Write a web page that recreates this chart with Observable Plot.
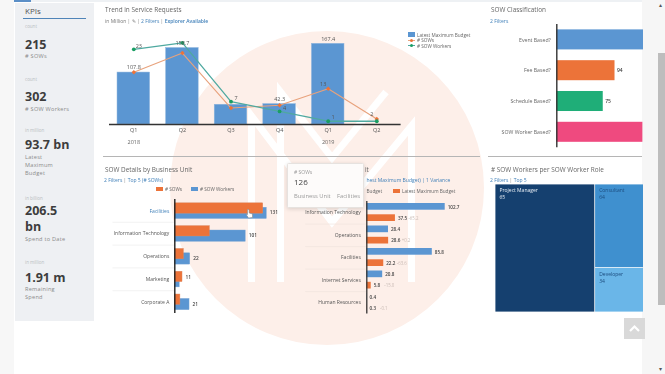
<!DOCTYPE html>
<html><head><meta charset="utf-8">
<script src="https://cdn.jsdelivr.net/npm/d3@7"></script>
<script src="https://cdn.jsdelivr.net/npm/@observablehq/plot@0.6"></script>
<style>
html,body{margin:0;padding:0;background:#fff;overflow:hidden}
#page{position:relative;width:665px;height:374px;overflow:hidden;font-family:"Open Sans",sans-serif;filter:blur(.35px)}
.box{position:absolute}
.t{position:absolute;white-space:nowrap;transform:translateY(-50%);line-height:1}
.chart{position:absolute;overflow:hidden}
.chart svg{display:block;background:transparent;max-width:none}
</style></head><body><div id="page"></div>
<script>
const BLUE="#5b96d2",ORANGE="#ec7339",GREEN="#1fae78",PINK="#ef4a7f",GRAY="#666",LINK="#3f7fb8";
const FONT='"Open Sans",sans-serif';

// KPI panel
const kpis=[
 {unit:"count",y:26,value:["215"],vy:44.5,label:["# SOWs"],ly:57},
 {unit:"count",y:79,value:["302"],vy:96.5,label:["# SOW Workers"],ly:110},
 {unit:"in million",y:130,value:["93.7 bn"],vy:144.5,label:["Latest","Maximum","Budget"],ly:158},
 {unit:"in billion",y:198,value:["206.5","bn"],vy:210.5,label:["Spend to Date"],ly:239.7},
 {unit:"in million",y:262,value:["1.91 m"],vy:277.5,label:["Remaining","Spend"],ly:290}
];
// Trend chart
const periods=["2018 Q1","2018 Q2","2018 Q3","2018 Q4","2019 Q1","2019 Q2"];
const budget=[107.8,158.7,41,42.3,167.4,0];
const sows=[19,26,6,7,13,2];
const workers=[23,25,7,4,1,1];
const budgetLabels=["107.8","158.7","","42.3","167.4",""];
const sowLabels=["","","","","13","2"];
const workerLabels=["23","","7","4","1",""];
const years=[["2018 Q1","2018"],["2019 Q1","2019"]];
// Classification
const classes=["Event Based?","Fee Based?","Schedule Based?","SOW Worker Based?"];
const classValues=[140,94,75,139];
const classLabels=["","94","75",""];
const classColors=[BLUE,ORANGE,GREEN,PINK];
// SOW details
const units=["Facilities","Information Technology","Operations","Marketing","Corporate A"];
const unitSows=[126,50,13,11,8];
const unitWorkers=[131,101,22,7,21];
const unitLabels=["131","101","22","11","21"];
// Budget
const budgetUnits=["Information Technology","Operations","Facilities","Internet Services","Human Resources"];
const buBudget=[102.7,28.4,85.8,20.8,0.4];
const buLatest=[37.5,28.6,22.2,5.8,0.3];
const buVariance=["-65.2","+0.2","-63.6","-15.0","-0.1"];
// Treemap
const roles=["Project Manager","Consultant","Developer"];
const roleValues=[65,64,34];
const roleColors=["#15406f","#3f90cf","#6ab6e8"];
const roleText=["#e8eef5","#1c4c7e","#1c4c7e"];

const page=document.getElementById("page");
function box(x,y,w,h,bg,extra){const d=document.createElement("div");d.className="box";
 d.style.cssText=`left:${x}px;top:${y}px;width:${w}px;height:${h}px;background:${bg};${extra||""}`;page.appendChild(d);return d;}
function t(x,y,s,size,color,extra){const d=document.createElement("div");d.className="t";d.textContent=s;
 d.style.cssText=`left:${x}px;top:${y}px;font-size:${size}px;color:${color};${extra||""}`;page.appendChild(d);return d;}
function mount(x,y,w,h,el){const d=document.createElement("div");d.className="chart";
 d.style.cssText=`left:${x}px;top:${y}px;width:${w}px;height:${h}px`;d.appendChild(el);page.appendChild(d);}

// page chrome
box(0,0,14,374,"#f7f7f7");
box(642,0,23,374,"#f6f6f6");
box(657.5,53,7.5,252,"#bdbdbd");
box(14,0,628,2,"#eef1f4");
box(14,0,17,2,"#5b8fc7");
t(659,5,"▴",6,"#555");t(659,369,"▾",6,"#555");

// watermark behind the charts
const ns="http://www.w3.org/2000/svg";
const wm=document.createElementNS(ns,"svg");
wm.setAttribute("width",665);wm.setAttribute("height",374);
wm.style.cssText="position:absolute;left:0;top:0";
wm.innerHTML=`<circle cx="327" cy="188" r="157" fill="#fdefe9"/>
<g fill="none" stroke="#fff" stroke-width="7" stroke-linejoin="miter">
<polyline points="251.5,282 251.5,116 332,222 411.5,126 411.5,282"/>
<polyline points="280.5,282 280.5,92 332,158 386,92"/></g>`;
page.appendChild(wm);

// KPI
box(15,3,79,318,"#eef0f3");
t(25,11,"KPIs",8,"#555");
box(23,18,63,1.2,"#4f84b8");
for(const k of kpis){
 t(25,k.y,k.unit,4.5,"#b9bdc2");
 k.value.forEach((v,i)=>t(25,k.vy+i*16.7,v,12.5,"#3d3d3d","font-weight:700"));
 k.label.forEach((v,i)=>t(25,k.ly+i*8,v,5.6,"#8a8a8a","letter-spacing:.25px"));
}

// headers
function subtitle(x,y,parts){let s=document.createElement("div");s.className="t";
 s.style.cssText=`left:${x}px;top:${y}px;font-size:5px`;
 s.innerHTML=parts.map(([a,c,w])=>`<span style="color:${c};${w?'font-weight:600':''}">${a}</span>`).join(' <span style="color:#888">|</span> ');
 page.appendChild(s);}
t(105,10,"Trend in Service Requests",6.4,GRAY);
subtitle(105,20.5,[["in Million","#777"],["✎","#777"],["2 Filters",LINK],["Explorer Available",LINK,1]]);
t(491,10,"SOW Classification",6.4,GRAY);
subtitle(490,21,[["2 Filters",LINK]]);
t(105,170,"SOW Details by Business Unit",6.4,GRAY);
subtitle(104,180,[["2 Filters",LINK],["Top 5 (# SOWs)",LINK]]);
t(491,170,"# SOW Workers per SOW Worker Role",6.4,GRAY);
subtitle(490,180,[["2 Filters",LINK],["Top 5",LINK]]);
box(103,155.5,377,.8,"#b5b5b5");
box(488,155.5,154,.8,"#b5b5b5");

// Trend legend
box(408,32,7,5,BLUE);t(417,34.5,"Latest Maximum Budget",4.7,"#666");
box(408,39.6,7,.8,"#e8a27c");box(410,38.5,3,3,ORANGE,"border-radius:50%");t(417,40,"# SOWs",4.7,"#666");
box(408,45.1,7,.8,"#4fa9a0");box(410,44,3,3,"#1a9e63","border-radius:50%");t(417,45.5,"# SOW Workers",4.7,"#666");

// Trend chart
const trendRows=periods.map((p,i)=>({p,budget:budget[i],sows:sows[i],workers:workers[i],bl:budgetLabels[i],sl:sowLabels[i],wl:workerLabels[i]}));
const sowK=5.7,workerK=6.78; // secondary axes on the budget scale
mount(100,20,310,130,Plot.plot({width:310,height:130,marginLeft:9,marginRight:9.4,marginTop:0,marginBottom:26,
 style:{background:"transparent",fontFamily:FONT},
 x:{domain:periods,paddingInner:.33,paddingOuter:.165,round:false,axis:null},y:{domain:[0,215.8],axis:null},
 marks:[
  Plot.barY(trendRows,{x:"p",y:"budget",fill:BLUE,stroke:"#8fb6dd",strokeWidth:.5}),
  Plot.ruleY([0],{stroke:"#333",strokeWidth:1.4}),
  Plot.axisX({domain:periods,tickSize:0,tickPadding:4,fontSize:5.5,label:null,tickFormat:d=>d.slice(5),color:"#555"}),
  Plot.text(years,{x:d=>d[0],y:()=>0,text:d=>d[1],dy:17.5,fontSize:5.5,fill:"#666"}),
  Plot.line(trendRows,{x:"p",y:d=>d.sows*sowK,stroke:"#e8a27c",strokeWidth:1.1}),
  Plot.line(trendRows,{x:"p",y:d=>d.workers*workerK,stroke:"#4fa9a0",strokeWidth:1.3}),
  Plot.dot(trendRows,{x:"p",y:d=>d.sows*sowK,r:2,symbol:"diamond2",fill:ORANGE}),
  Plot.dot(trendRows,{x:"p",y:d=>d.workers*workerK,r:1.9,fill:"#1a9e63"}),
  Plot.text(trendRows,{x:"p",y:"budget",text:"bl",dy:-5,fontSize:5.5,fill:"#555"}),
  Plot.text(trendRows,{x:"p",y:d=>d.sows*sowK,text:"sl",dx:-5,dy:-4.5,fontSize:5.5,fill:"#555"}),
  Plot.text(trendRows,{x:"p",y:d=>d.workers*workerK,text:"wl",dx:5,dy:-3.5,fontSize:5.5,fill:"#555"})
 ]}));

// Classification (cropped by the viewport at the right edge)
const classRows=classes.map((c,i)=>({c,v:classValues[i],l:classLabels[i],col:classColors[i]}));
mount(480,24,163,124,Plot.plot({width:163,height:124,marginLeft:76.3,marginRight:0,marginTop:0,marginBottom:.8,
 style:{background:"transparent",fontFamily:FONT},
 x:{domain:[0,140],axis:null},y:{domain:classes,paddingInner:.35,paddingOuter:.175,round:false,axis:null},
 marks:[
  Plot.barX(classRows,{x:"v",y:"c",fill:"col"}),
  Plot.ruleX([0],{stroke:"#333",strokeWidth:1.4}),
  Plot.axisY({domain:classes,tickSize:0,tickPadding:6,fontSize:5.2,label:null,color:"#666"}),
  Plot.text(classRows,{x:"v",y:"c",text:"l",dx:2,textAnchor:"start",fontSize:5,fontWeight:600,fill:"#444"})
 ]}));

// SOW details
box(155.7,186.7,7,4.6,ORANGE);t(165,189,"# SOWs",4.7,"#666");
box(190.7,186.7,7,4.6,BLUE);t(200,189,"# SOW Workers",4.7,"#666");
const unitRows=units.map((u,i)=>({u,s:unitSows[i],w:unitWorkers[i],l:unitLabels[i],c:i===0?LINK:"#555"}));
mount(100,198.5,200,115,Plot.plot({width:200,height:115,marginLeft:74.3,marginRight:0,marginTop:0,marginBottom:1,
 style:{background:"transparent",fontFamily:FONT},
 x:{domain:[0,179],axis:null},y:{domain:units,padding:0,round:false,axis:null},
 marks:[
  Plot.ruleY(units.slice(1),{y:d=>d,dy:-11.4,x1:-88,x2:0,stroke:"#ececec",strokeWidth:.7}),
  Plot.barX(unitRows,{x:"w",y:"u",fill:BLUE,stroke:"#7fa8d4",strokeWidth:.4,insetTop:8.2,insetBottom:3.3}),
  Plot.barX(unitRows,{x:"s",y:"u",fill:ORANGE,stroke:"#d98a66",strokeWidth:.4,insetTop:3.8,insetBottom:8.6}),
  Plot.ruleX([0],{stroke:"#222",strokeWidth:1.4}),
  Plot.text(unitRows,{x:()=>0,y:"u",text:"u",dx:-5.5,textAnchor:"end",fontSize:5,fill:"c"}),
  Plot.text(unitRows.filter(d=>d.w>=d.s),{x:"w",y:"u",text:"l",dx:3,dy:2,textAnchor:"start",fontSize:4.8,fontWeight:600,fill:"#444"}),
  Plot.text(unitRows.filter(d=>d.w<d.s),{x:"s",y:"u",text:"l",dx:3,dy:-2,textAnchor:"start",fontSize:4.8,fontWeight:600,fill:"#444"})
 ]}));

// Budget: the tooltip hides the start of these header texts
t(365,170,"it",6.4,GRAY);
t(366.5,180,"hest Maximum Budget) | 1 Variance",5,LINK);
t(366.5,191,"Budget",4.7,"#666");
box(392.7,188.7,7,4.6,ORANGE);t(402,191,"Latest Maximum Budget",4.7,"#666");
const buRows=budgetUnits.map((u,i)=>({u,b:buBudget[i],n:buLatest[i],v:buVariance[i]}));
mount(286,201,200,113,Plot.plot({width:200,height:113,marginLeft:80.3,marginRight:0,marginTop:0,marginBottom:.5,
 style:{background:"transparent",fontFamily:FONT},
 x:{domain:[0,156.8],axis:null},y:{domain:budgetUnits,padding:0,round:false,axis:null},
 marks:[
  Plot.ruleY(budgetUnits.slice(1),{y:d=>d,dy:-11.2,x1:-80,x2:0,stroke:"#f0e4de",strokeWidth:.7}),
  Plot.barX(buRows,{x:"b",y:"u",fill:BLUE,insetTop:2,insetBottom:13.8}),
  Plot.barX(buRows,{x:"n",y:"u",fill:ORANGE,insetTop:13.3,insetBottom:2.5}),
  Plot.ruleX([0],{stroke:"#333",strokeWidth:1.3}),
  Plot.axisY({domain:budgetUnits,tickSize:0,tickPadding:6,fontSize:5,label:null,color:"#555"}),
  Plot.text(buRows,{x:"b",y:"u",text:d=>d.b.toFixed(1),dx:2.5,dy:-5.6,textAnchor:"start",fontSize:4.6,fontWeight:600,fill:"#444"}),
  Plot.text(buRows,{x:"n",y:"u",text:d=>d.n.toFixed(1),dx:2.5,dy:5.5,textAnchor:"start",fontSize:4.6,fontWeight:600,fill:"#444"}),
  Plot.text(buRows,{x:"n",y:"u",text:"v",dx:13,dy:5.5,textAnchor:"start",fontSize:4.4,fill:"#c9bbb5"})
 ]}));

// tooltip
box(287,163,77,45,"#fdfbfa","border:.5px solid #e6e2df;box-shadow:0 1px 4px rgba(0,0,0,.14);border-radius:1.5px;box-sizing:border-box");
t(294,172,"# SOWs",5,"#999");
t(294,181.5,"126",8,"#444");
t(294,197,"Business Unit",5.8,"#9a9a9a");
t(337,197,"Facilities",5.8,"#9a9a9a");

// Treemap: a dice of Project Manager against the rest; the viewport crops it at the right
const root=d3.hierarchy({children:[{i:0,value:roleValues[0]},{children:[{i:1,value:roleValues[1]},{i:2,value:roleValues[2]}]}]}).sum(d=>d.value||0);
d3.treemap().size([250,128]).tile(d3.treemapSliceDice)(root);
const leaves=root.leaves().map(n=>({x0:n.x0,x1:n.x1,y0:n.y0,y1:n.y1,i:n.data.i,role:roles[n.data.i],value:roleValues[n.data.i]}));
mount(495,184.3,148,128,Plot.plot({width:250,height:128,margin:0,
 style:{background:"transparent",fontFamily:FONT},
 x:{domain:[0,250],range:[0,250],axis:null},y:{domain:[0,128],range:[0,128],axis:null},
 marks:[
  Plot.rect(leaves,{x1:"x0",x2:"x1",y1:"y0",y2:"y1",fill:d=>roleColors[d.i],inset:.4}),
  Plot.text(leaves,{x:"x0",y:"y0",text:"role",dx:4,dy:6,textAnchor:"start",fontSize:5,fill:d=>roleText[d.i]}),
  Plot.text(leaves,{x:"x0",y:"y0",text:d=>String(d.value),dx:4,dy:13,textAnchor:"start",fontSize:5,fill:d=>roleText[d.i]})
 ]}));

// mouse pointer over the Facilities bar
const hand=document.createElementNS(ns,"svg");hand.setAttribute("width",10);hand.setAttribute("height",12);
hand.style.cssText="position:absolute;left:245px;top:208px";
hand.innerHTML='<path d="M2.5 1.5 L4 1.5 L4.2 5 L7.5 6 L7.5 9.5 L3.5 10 L1.2 6.5 L2.5 6.5 Z" fill="#fff" stroke="#8a8a8a" stroke-width=".6"/>';
page.appendChild(hand);

// back to top button
box(624,318,20.5,21,"#d9d9d9");
const up=document.createElementNS(ns,"svg");up.setAttribute("width",21);up.setAttribute("height",21);
up.style.cssText="position:absolute;left:624px;top:318px";
up.innerHTML='<polyline points="6,13 10.5,8.5 15,13" fill="none" stroke="#fff" stroke-width="2.2"/>';
page.appendChild(up);
</script></body></html>
